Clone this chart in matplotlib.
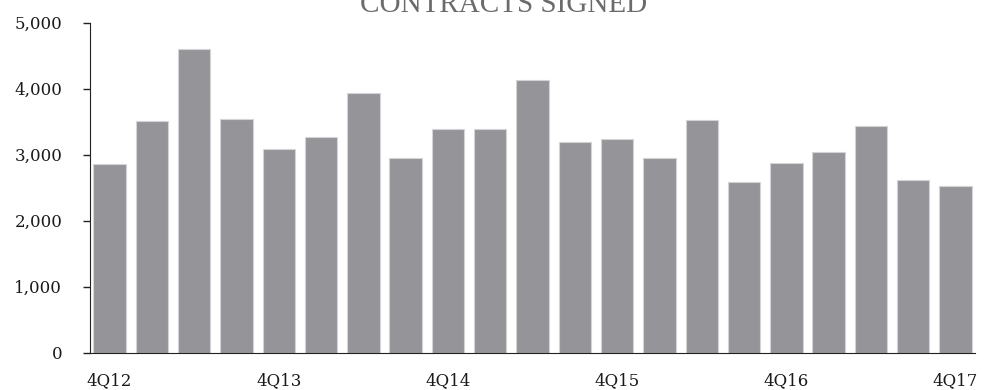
import matplotlib.pyplot as plt
import numpy as np

# quarterly contracts signed, 4Q12 .. 4Q17
quarters = ['4Q12', '1Q13', '2Q13', '3Q13', '4Q13', '1Q14', '2Q14', '3Q14', '4Q14',
            '1Q15', '2Q15', '3Q15', '4Q15', '1Q16', '2Q16', '3Q16', '4Q16',
            '1Q17', '2Q17', '3Q17', '4Q17']
contracts = [2860, 3505, 4606, 3536, 3082, 3264, 3930, 2950, 3389, 3385, 4136,
             3188, 3238, 2945, 3521, 2582, 2874, 3041, 3439, 2612, 2521]
yticks = [0, 1000, 2000, 3000, 4000, 5000]

W, H = 991, 390
fig = plt.figure(figsize=(W/100, H/100), dpi=100)
ax = fig.add_axes([90/W, 1-352.7/H, (975-90)/W, (352.7-22.7)/H])

x = np.arange(len(quarters))
ax.bar(x, contracts, width=0.766, color='#959498', edgecolor='#d4d4d6', linewidth=0.8)

ax.set_xlim(-0.461, 20.46)
ax.set_ylim(0, 5000)

ax.set_yticks(yticks)
ax.set_yticklabels(['{:,}'.format(v) for v in yticks],
                   fontfamily='DejaVu Serif', fontsize=12, color='#1a1a1a')
ax.tick_params(axis='y', direction='out', length=5, width=1, pad=15, color='#222222')

show = list(range(0, len(quarters), 4))
ax.set_xticks(show)
ax.set_xticklabels([quarters[i] for i in show],
                   fontfamily='DejaVu Serif', fontsize=12, color='#1a1a1a')
ax.tick_params(axis='x', length=0, pad=14)

for s in ['top', 'right']:
    ax.spines[s].set_visible(False)
ax.spines['left'].set_color('#222222')
ax.spines['bottom'].set_color('#222222')

fig.text(504/W, 1-12/H, 'CONTRACTS SIGNED', ha='center', va='baseline',
         fontfamily='Liberation Serif', fontsize=21, color='#6b6b6b')

fig.savefig('out.png', dpi=100)
